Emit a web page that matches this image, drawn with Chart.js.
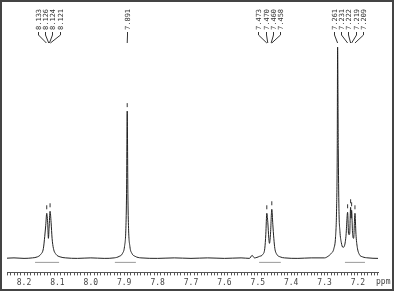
<!DOCTYPE html>
<html>
<head>
<meta charset="utf-8">
<script src="https://cdn.jsdelivr.net/npm/chart.js@4"></script>
<style>
  html, body { margin: 0; padding: 0; background: #fff; }
  #wrap { width: 394px; height: 291px; position: relative; }
</style>
</head>
<body>
<div id="wrap"><canvas id="nmr" width="394" height="291"></canvas></div>
<script>
// spectrum (ppm / intensity)
var ppm = [8.260, 8.230, 8.200, 8.175, 8.160, 8.150, 8.142, 8.138, 8.135, 8.132, 8.129, 8.127, 8.125, 8.122, 8.119, 8.116, 8.112, 8.104, 8.092, 8.075,
  8.040, 8.000, 7.960, 7.930, 7.915, 7.905, 7.899, 7.895, 7.893, 7.891, 7.889, 7.887, 7.883, 7.877, 7.867, 7.850,
  7.800, 7.750, 7.700, 7.650, 7.600, 7.550, 7.525, 7.517, 7.510, 7.495, 7.485, 7.479, 7.476, 7.473, 7.470, 7.467, 7.465, 7.462, 7.458, 7.455, 7.452, 7.449, 7.443, 7.433, 7.420,
  7.380, 7.340, 7.300, 7.290, 7.280, 7.272, 7.267, 7.264, 7.262, 7.261, 7.259, 7.257, 7.254, 7.250, 7.245, 7.241, 7.236, 7.231, 7.228, 7.225, 7.222, 7.2205, 7.219, 7.216, 7.213, 7.209, 7.206, 7.202, 7.196, 7.186, 7.170, 7.140, 7.110];
var intensity = [0, 0.5, 0, 0.5, 1.5, 4, 10, 22, 33, 45, 34, 20, 30, 47, 36, 20, 10, 4, 1.5, 0.5,
  0, 0.5, 0, 0.5, 2, 5, 12, 30, 65, 147, 65, 30, 12, 5, 2, 0.5,
  0, 0.5, 0, 0.5, 0, 0.5, 0, 3, 0.5, 2, 4, 10, 24, 45, 36, 20, 15, 24, 49, 34, 20, 10, 4, 1.5, 0.5,
  0, 0.5, 0.5, 2, 5, 10, 22, 50, 110, 211, 110, 50, 27, 16, 11, 12, 22, 46, 24, 24, 51, 40, 48, 24, 20, 45, 24, 11, 4, 1.5, 0.5, 0, 0];

// picked peaks, grouped as in the label fans
var peakGroups = [
  [8.133, 8.126, 8.124, 8.121],
  [7.891],
  [7.473, 7.470, 7.460, 7.458],
  [7.261, 7.231, 7.222, 7.219, 7.209]
];

// little peak-pick marks above the tops
var markPpm = [8.132, 8.122, 7.891, 7.473, 7.458, 7.231, 7.222, 7.219, 7.209];
var markInt = [51, 53, 153, 51, 55, 52, 57, 54, 51];

// integral regions (drawn just below the baseline)
var integFrom = [8.167, 7.928, 7.496, 7.239];
var integTo = [8.095, 7.865, 7.431, 7.179];
var integLevel = -4;

var xMin = 7.140, xMax = 8.251;

var spectrum = ppm.map(function (p, i) { return { x: p, y: intensity[i] }; });
var marks = markPpm.map(function (p, i) { return { x: p, y: markInt[i] }; });

var datasets = [{
  data: spectrum,
  borderColor: '#222',
  borderWidth: 1,
  pointRadius: 0,
  cubicInterpolationMode: 'monotone',
  fill: false
}, {
  data: marks,
  showLine: false,
  pointStyle: 'line',
  rotation: 90,
  pointRadius: 2,
  borderColor: '#333',
  borderWidth: 1
}];
integFrom.forEach(function (a, i) {
  datasets.push({
    data: [{ x: a, y: integLevel }, { x: integTo[i], y: integLevel }],
    borderColor: '#9a9a9a',
    borderWidth: 1,
    pointRadius: 0,
    fill: false
  });
});

var decor = {
  id: 'decor',
  afterDraw: function (chart) {
    var ctx = chart.ctx, xs = chart.scales.x;
    ctx.save();
    // peak labels with fan lines
    ctx.font = '7px "DejaVu Sans Mono"';
    ctx.fillStyle = '#333';
    ctx.strokeStyle = '#333';
    ctx.lineWidth = 1;
    peakGroups.forEach(function (g) {
      var px = g.map(function (v) { return xs.getPixelForValue(v); });
      var c = px.reduce(function (s, v) { return s + v; }, 0) / px.length;
      g.forEach(function (v, i) {
        var lx = Math.round(c + (i - (g.length - 1) / 2) * 7.4) + 0.5;
        ctx.save();
        ctx.translate(lx + 2.5, 30);
        ctx.rotate(-Math.PI / 2);
        ctx.textAlign = 'left';
        ctx.textBaseline = 'alphabetic';
        ctx.fillText(v.toFixed(3), 0, 0);
        ctx.restore();
        ctx.beginPath();
        ctx.moveTo(lx, 32);
        ctx.lineTo(lx, 35);
        ctx.lineTo(px[i], 43);
        ctx.stroke();
      });
    });
    // unit
    ctx.font = '8px "DejaVu Sans Mono"';
    ctx.fillStyle = '#444';
    ctx.textAlign = 'left';
    ctx.textBaseline = 'middle';
    ctx.fillText('ppm', 376, 282);
    // frame
    ctx.strokeStyle = '#444';
    ctx.lineWidth = 2;
    ctx.strokeRect(1, 1, 392, 289);
    ctx.restore();
  }
};

new Chart(document.getElementById('nmr'), {
  type: 'line',
  data: { datasets: datasets },
  options: {
    responsive: false,
    animation: false,
    events: [],
    layout: { padding: { left: 7, right: 16, top: 40, bottom: 0 } },
    plugins: { legend: { display: false }, tooltip: { enabled: false } },
    scales: {
      x: {
        type: 'linear',
        reverse: true,
        min: xMin,
        max: xMax,
        border: { display: true, color: '#555', width: 1 },
        grid: {
          drawOnChartArea: false,
          drawTicks: true,
          tickLength: 3,
          tickColor: '#555'
        },
        ticks: {
          stepSize: 0.01,
          includeBounds: false,
          autoSkip: false,
          maxRotation: 0,
          padding: 3,
          color: '#444',
          font: { family: 'DejaVu Sans Mono', size: 8 },
          callback: function (v) {
            var t = v * 10;
            return Math.abs(t - Math.round(t)) < 1e-6 ? v.toFixed(1) : '';
          }
        }
      },
      y: {
        display: false,
        min: -14,
        max: 218
      }
    }
  },
  plugins: [decor]
});
</script>
</body>
</html>
